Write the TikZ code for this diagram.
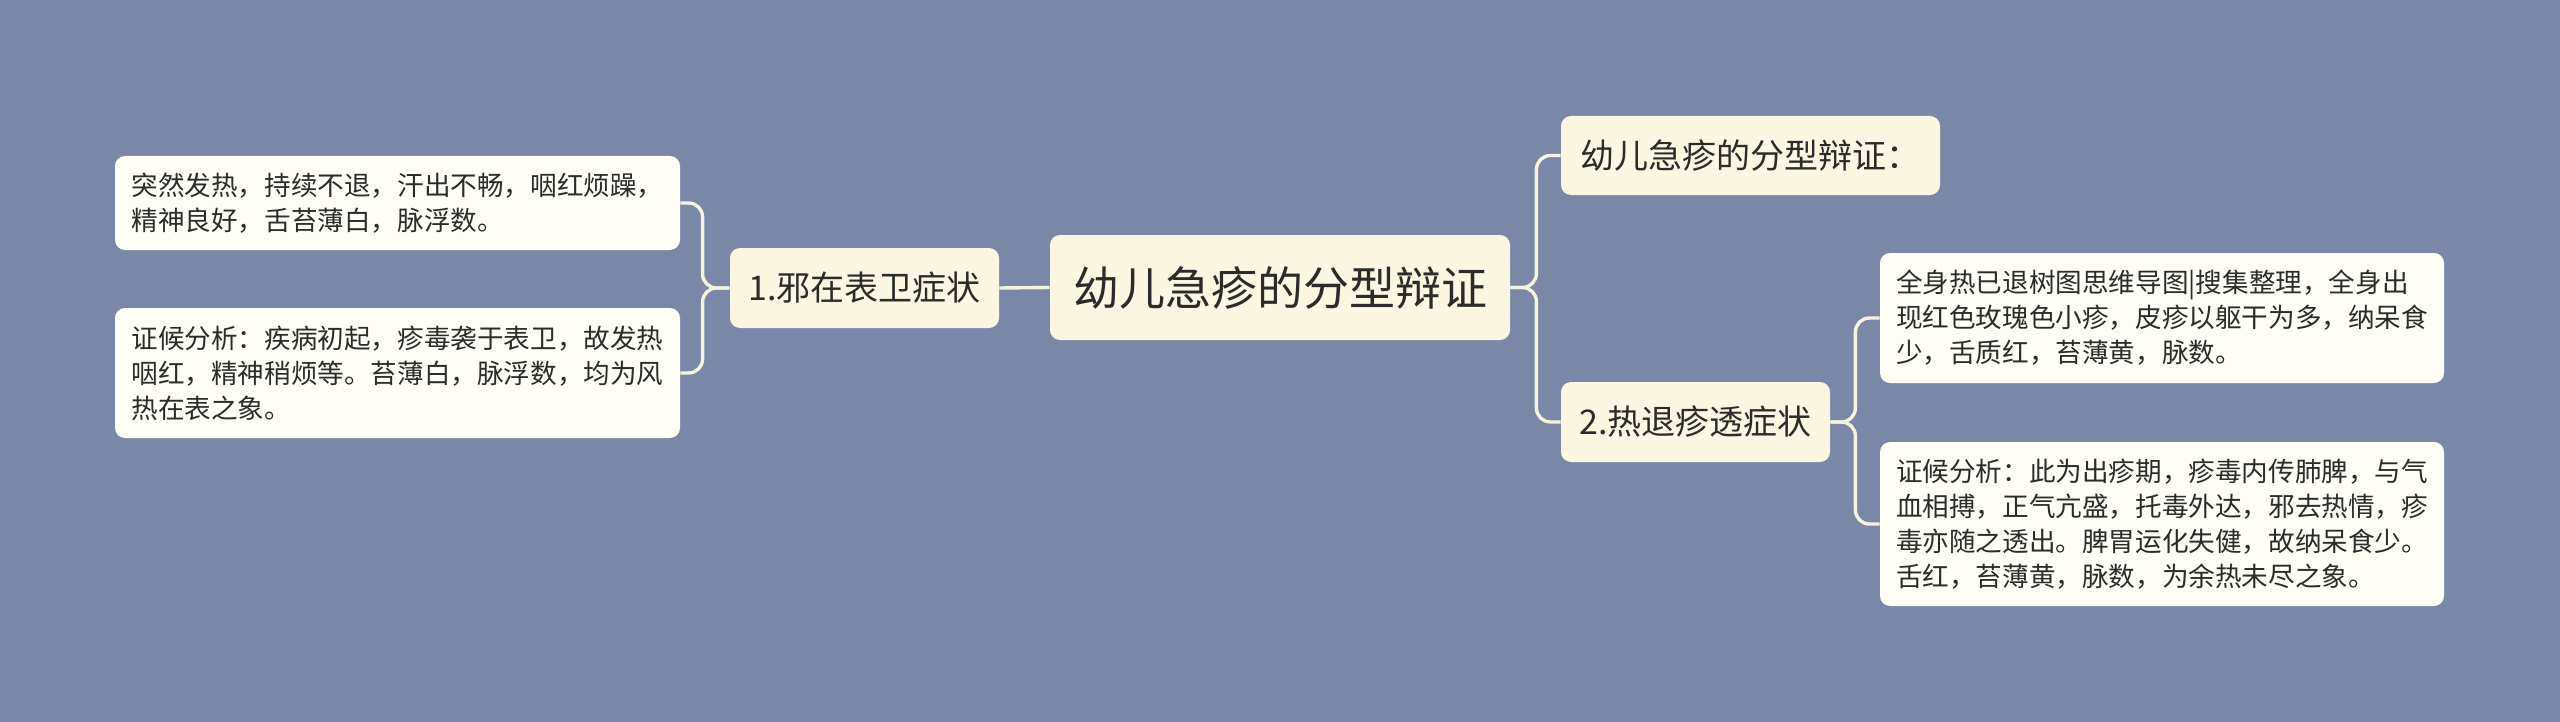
\documentclass[tikz,border=0pt]{standalone}
\usepackage{fontspec}
\newfontfamily\cjk{Noto Sans CJK SC}
\definecolor{bg}{HTML}{7A87A6}
\definecolor{cream}{HTML}{FAF6E1}
\definecolor{leafc}{HTML}{FEFEF6}
\definecolor{linec}{HTML}{F6F2DE}
\definecolor{ink}{HTML}{2B2B2B}
\begin{document}
\begin{tikzpicture}[x=0.5pt,y=-0.5pt,
  box/.style={rounded corners=5pt, inner sep=0pt, align=left, text=ink},
  root/.style={box, fill=cream, font=\cjk\fontsize{23}{28}\selectfont},
  lvl/.style={box, fill=cream, font=\cjk\fontsize{17}{21}\selectfont},
  leafbox/.style={box, fill=leafc, font=\cjk\fontsize{13.3}{17.5}\selectfont},
  conn/.style={draw=linec, line width=1.7pt, rounded corners=7pt}]
\fill[bg] (0,0) rectangle (2560,722);
\useasboundingbox (0,0) rectangle (2560,722);

\node[root, minimum width=230pt, minimum height=52.5pt] (C) at (1280,287.5) {幼儿急疹的分型辩证};
\node[lvl, minimum width=134.5pt, minimum height=40pt] (L) at (864.5,288) {1.邪在表卫症状};
\node[leafbox, minimum width=282.5pt, minimum height=47pt] (L1) at (397.5,203) {突然发热，持续不退，汗出不畅，咽红烦躁，\\精神良好，舌苔薄白，脉浮数。};
\node[leafbox, minimum width=282.5pt, minimum height=65pt] (L2) at (397.5,373) {证候分析：疾病初起，疹毒袭于表卫，故发热\\咽红，精神稍烦等。苔薄白，脉浮数，均为风\\热在表之象。};
\node[lvl, minimum width=189.5pt, minimum height=39.5pt] (R1) at (1750.5,155.5) {幼儿急疹的分型辩证：};
\node[lvl, minimum width=134.5pt, minimum height=40pt] (R2) at (1695.5,422) {2.热退疹透症状};
\node[leafbox, minimum width=282pt, minimum height=65pt] (RL1) at (2162,318) {全身热已退树图思维导图|搜集整理，全身出\\现红色玫瑰色小疹，皮疹以躯干为多，纳呆食\\少，舌质红，苔薄黄，脉数。};
\node[leafbox, minimum width=282pt, minimum height=82pt] (RL2) at (2162,524) {证候分析：此为出疹期，疹毒内传肺脾，与气\\血相搏，正气亢盛，托毒外达，邪去热情，疹\\毒亦随之透出。脾胃运化失健，故纳呆食少。\\舌红，苔薄黄，脉数，为余热未尽之象。};

\draw[conn] (C.west) -- (L.east);
\draw[conn] (L.west) -- ++(-27,0) |- (L1.east);
\draw[conn] (L.west) -- ++(-27,0) |- (L2.east);
\draw[conn] (C.east) -- ++(26,0) |- (R1.west);
\draw[conn] (C.east) -- ++(26,0) |- (R2.west);
\draw[conn] (R2.east) -- ++(25,0) |- (RL1.west);
\draw[conn] (R2.east) -- ++(25,0) |- (RL2.west);
\end{tikzpicture}
\end{document}
